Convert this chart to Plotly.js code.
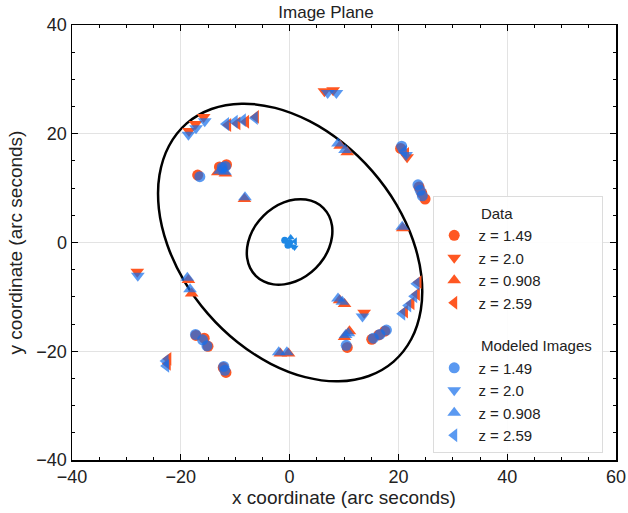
<!DOCTYPE html>
<html>
<head>
<meta charset="utf-8">
<script src="https://cdn.plot.ly/plotly-3.0.1.min.js"></script>
<style>html,body{margin:0;padding:0;background:#fff;}#chart{width:628px;height:513px;}</style>
</head>
<body>
<div id="chart"></div>
<script>
// Observed image positions (Data), per redshift
const dataZ149X = [-16.9, -12.9, -11.6, 20.4, 23.8, 24.3, 24.9, -17.2, -15.7, -15.0, -12.2, -11.7, 10.6, 15.1, 16.4, 17.5];
const dataZ149Y = [12.4, 13.9, 14.3, 17.3, 10.2, 9.1, 8.0, -17.1, -17.6, -19.1, -23.0, -23.9, -19.3, -17.8, -17.0, -16.3];
const dataZ20X = [6.4, 8.0, -18.5, -17.3, -15.8, -28.0, 13.7, 21.6];
const dataZ20Y = [27.8, 28.0, 20.5, 21.8, 23.1, -5.4, -12.9, 15.7];
const dataZ0908X = [-13.2, -11.8, -8.3, 9.3, 10.6, 20.8, -18.6, -18.0, -1.7, -0.2, 9.2, 10.1, 10.1, 11.0];
const dataZ0908Y = [12.9, 12.7, 8.0, 17.8, 16.6, 2.6, -6.9, -9.4, -20.4, -20.4, -10.6, -11.3, -17.4, -16.3];
const dataZ259X = [-11.3, -9.6, -8.0, -6.2, 21.4, -22.3, -22.4, 23.7, 23.4, 22.4, 21.2];
const dataZ259Y = [21.6, 21.9, 22.2, 23.1, 16.3, -21.4, -22.3, -7.3, -9.5, -11.2, -12.7];

// Modeled image positions
const modZ149X = [-16.5, -12.4, -11.8, 20.6, 23.6, 24.0, 24.4, -17.3, -16.0, -15.2, -12.1, -11.9, 10.4, 15.4, 16.6, 17.8];
const modZ149Y = [12.1, 13.8, 14.0, 17.7, 10.6, 9.6, 8.6, -16.9, -17.9, -19.0, -22.8, -23.5, -18.9, -17.6, -16.9, -16.1];
const modZ20X = [7.0, 8.6, -18.6, -17.2, -15.6, -27.9, 13.4, 21.4];
const modZ20Y = [27.5, 27.5, 19.8, 21.0, 22.3, -6.1, -13.6, 16.1];
const modZ0908X = [-12.8, -11.9, -8.2, 8.9, 10.2, 20.7, -18.8, -18.3, -2.0, -0.5, 8.9, 9.7, 10.3, 10.8];
const modZ0908Y = [13.2, 13.0, 8.3, 18.2, 17.0, 2.9, -6.5, -8.6, -20.2, -20.2, -10.3, -10.9, -17.0, -16.7];
const modZ259X = [-11.7, -10.1, -8.6, -6.4, 21.0, -22.8, -22.7, 23.3, 22.9, 21.8, 20.7];
const modZ259Y = [21.8, 22.2, 22.5, 22.9, 16.7, -21.8, -22.7, -7.6, -9.9, -11.6, -13.1];

// Central modeled image blob
const centerX = [-0.9, 0.2, 1.0, 0.6, -0.3, 0.0, 0.9];
const centerY = [0.4, 0.9, 0.2, -0.7, -0.5, 0.0, -0.9];

// Critical curves
const outerCurveX = [-18.92, -14.36, -8.82, -2.67, 3.67, 9.76, 15.2, 19.62, 22.69, 24.23, 24.12, 22.38, 19.12, 14.56, 9.02, 2.87, -3.47, -9.56, -15.0, -19.42, -22.49, -24.03, -23.92, -22.18, -18.92];
const outerCurveY = [21.9, 24.55, 25.53, 24.76, 22.31, 18.34, 13.12, 7.0, 0.41, -6.2, -12.41, -17.75, -21.9, -24.55, -25.53, -24.76, -22.31, -18.34, -13.12, -7.0, -0.41, 6.2, 12.41, 17.75, 21.9];
const innerCurveX = [6.22, 4.76, 2.98, 1.0, -1.06, -3.04, -4.81, -6.26, -7.28, -7.8, -7.8, -7.26, -6.22, -4.76, -2.98, -1.0, 1.06, 3.04, 4.81, 6.26, 7.28, 7.8, 7.8, 7.26, 6.22];
const innerCurveY = [6.32, 7.36, 7.9, 7.9, 7.38, 6.36, 4.91, 3.14, 1.16, -0.9, -2.88, -4.66, -6.12, -7.16, -7.7, -7.7, -7.18, -6.16, -4.71, -2.94, -0.96, 1.1, 3.08, 4.86, 6.32];

const redshifts = ['1.49', '2.0', '0.908', '2.59'];
const symbols = ['circle', 'triangle-down', 'triangle-up', 'triangle-left'];
const dataSets = [[dataZ149X, dataZ149Y], [dataZ20X, dataZ20Y], [dataZ0908X, dataZ0908Y], [dataZ259X, dataZ259Y]];
const modSets = [[modZ149X, modZ149Y], [modZ20X, modZ20Y], [modZ0908X, modZ0908Y], [modZ259X, modZ259Y]];

const dataColor = '#FF5722';
const modColor = 'rgba(20,110,235,0.7)';
const NB = '\u00A0';

const traces = [];
traces.push({x: outerCurveX, y: outerCurveY, mode: 'lines', line: {color: '#000', width: 2.5, shape: 'spline', smoothing: 1}, showlegend: false, hoverinfo: 'skip'});
traces.push({x: innerCurveX, y: innerCurveY, mode: 'lines', line: {color: '#000', width: 2.5, shape: 'spline', smoothing: 1}, showlegend: false, hoverinfo: 'skip'});

dataSets.forEach((s, i) => {
  traces.push({
    x: s[0], y: s[1], mode: 'markers', type: 'scatter',
    name: NB + 'z = ' + redshifts[i],
    legendgroup: 'data',
    legendgrouptitle: i === 0 ? {text: NB.repeat(10) + 'Data', font: {size: 15, color: '#222'}} : undefined,
    marker: {symbol: symbols[i], size: i === 0 ? 11 : 12, color: dataColor, line: {width: 0}}
  });
});
modSets.forEach((s, i) => {
  traces.push({
    x: s[0], y: s[1], mode: 'markers', type: 'scatter',
    name: NB + 'z = ' + redshifts[i],
    legendgroup: 'model',
    legendgrouptitle: i === 0 ? {text: NB.repeat(10) + 'Modeled Images', font: {size: 15, color: '#222'}} : undefined,
    marker: {symbol: symbols[i], size: i === 0 ? 11 : 12, color: modColor, line: {width: 0}}
  });
});
traces.push({x: centerX, y: centerY, mode: 'markers', showlegend: false,
  marker: {symbol: ['circle', 'triangle-up', 'triangle-left', 'triangle-down', 'circle', 'circle', 'triangle-down'], size: 7, color: '#1E88E5'}});

const axisCommon = {
  showline: true, linecolor: '#000', linewidth: 1.5, mirror: 'allticks',
  ticks: 'inside', ticklen: 6, tickwidth: 1.2, tickcolor: '#000',
  showgrid: true, gridcolor: '#e3e3e3', gridwidth: 1,
  zeroline: false,
  tickfont: {size: 18, color: '#222'},
  minor: {dtick: 5, ticks: 'inside', ticklen: 3, tickwidth: 1, tickcolor: '#000', showgrid: false}
};

const layout = {
  width: 628, height: 513,
  margin: {l: 71.5, r: 12, t: 25, b: 53},
  paper_bgcolor: '#fff', plot_bgcolor: '#fff',
  font: {family: 'Liberation Sans, Arial, sans-serif', color: '#222'},
  title: {text: 'Image Plane', font: {size: 17, color: '#222'}, xref: 'paper', x: 0.467, xanchor: 'center', yref: 'container', y: 0.976, yanchor: 'middle'},
  xaxis: Object.assign({}, axisCommon, {range: [-40, 60], dtick: 20, tick0: 0,
    title: {text: 'x coordinate (arc seconds)', font: {size: 19, color: '#222'}, standoff: 2}}),
  yaxis: Object.assign({}, axisCommon, {range: [-40, 40], dtick: 20, tick0: 0,
    title: {text: 'y coordinate (arc seconds)', font: {size: 19, color: '#222'}, standoff: 8}}),
  showlegend: true,
  legend: {x: 0.664, y: 0.608, xanchor: 'left', yanchor: 'top',
    bgcolor: 'rgba(255,255,255,0.9)', bordercolor: '#dcdcdc', borderwidth: 1,
    font: {size: 15, color: '#222'}, traceorder: 'grouped', tracegroupgap: 20, itemwidth: 30}
};

Plotly.newPlot('chart', traces, layout, {displayModeBar: false, staticPlot: true});
</script>
</body>
</html>
